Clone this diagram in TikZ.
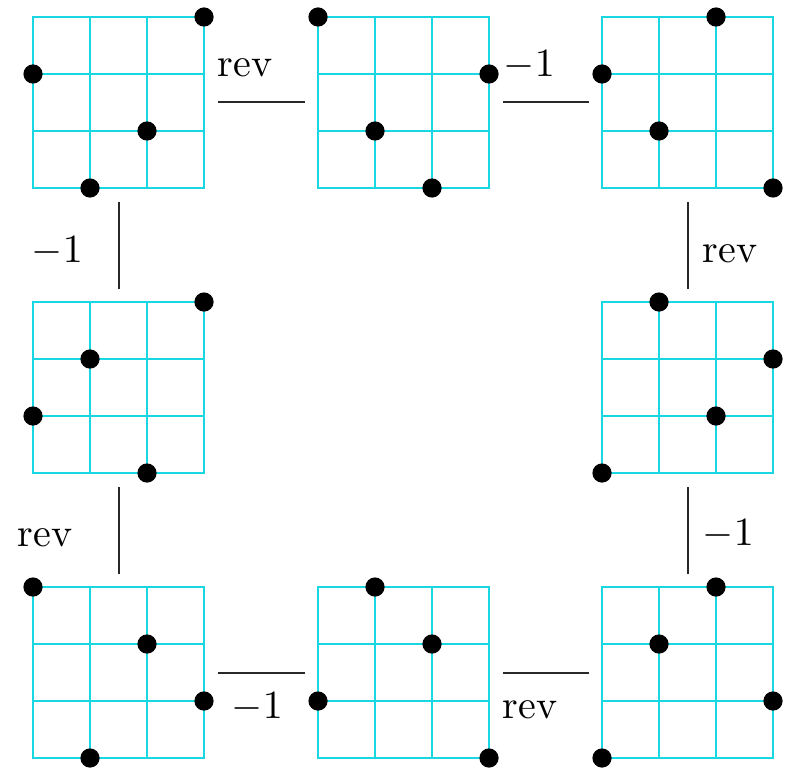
\documentclass[tikz,border=0pt]{standalone}
\usepackage{tikz}
\definecolor{gridcyan}{RGB}{25,215,225}
\definecolor{connc}{RGB}{40,40,40}
\tikzset{
  x=0.25pt, y=-0.25pt,
  gridbox/.style={draw=gridcyan, line width=0.5pt, minimum size=42.75pt, inner sep=0pt, outer sep=0pt},
  gridline/.style={draw=gridcyan, line width=0.5pt},
  conn/.style={draw=connc, line width=0.5pt, shorten <=3.6pt, shorten >=3.2pt},
  lbl/.style={inner sep=0pt, anchor=base west, font=\normalsize},
  dotc/.style={fill=black}
}
\newcommand{\permgrid}[4]{%
  \node[gridbox] (#1) at (#2+85.5,#3+85.5) {};
  \foreach \k in {1,2} {
    \draw[gridline] (#2+57*\k,#3) -- (#2+57*\k,#3+171);
    \draw[gridline] (#2,#3+57*\k) -- (#2+171,#3+57*\k);
  }
  \foreach \i/\j in {#4} \fill[dotc] (#2+57*\i,#3+171-57*\j) circle (2.4pt);
}
\begin{document}
\begin{tikzpicture}
\useasboundingbox (0,0) rectangle (788,770);
\permgrid{g1}{33}{17}{3/3,0/2,2/1,1/0}
\permgrid{g2}{318}{17}{0/3,3/2,1/1,2/0}
\permgrid{g3}{602}{17}{2/3,0/2,1/1,3/0}
\permgrid{g4}{33}{302}{3/3,1/2,0/1,2/0}
\permgrid{g5}{602}{302}{1/3,3/2,2/1,0/0}
\permgrid{g6}{33}{587}{0/3,2/2,3/1,1/0}
\permgrid{g7}{318}{587}{1/3,2/2,0/1,3/0}
\permgrid{g8}{602}{587}{2/3,1/2,3/1,0/0}
% connectors
\draw[conn] (g1.east) -- (g2.west);
\draw[conn] (g2.east) -- (g3.west);
\draw[conn] (g1.south) -- (g4.north);
\draw[conn] (g3.south) -- (g5.north);
\draw[conn] (g4.south) -- (g6.north);
\draw[conn] (g5.south) -- (g8.north);
\draw[conn] (g6.east) -- (g7.west);
\draw[conn] (g7.east) -- (g8.west);
% labels
\node[lbl] (l12) at (217,77) {rev};
\node[lbl] (l23) at (503,77) {$-1$};
\node[lbl] (l14) at (31,262) {$-1$};
\node[lbl] (l35) at (702,262) {rev};
\node[lbl] (l46) at (17,546) {rev};
\node[lbl] (l58) at (702,545) {$-1$};
\node[lbl] (l67) at (231,718) {$-1$};
\node[lbl] (l78) at (502,718) {rev};
\end{tikzpicture}
\end{document}
